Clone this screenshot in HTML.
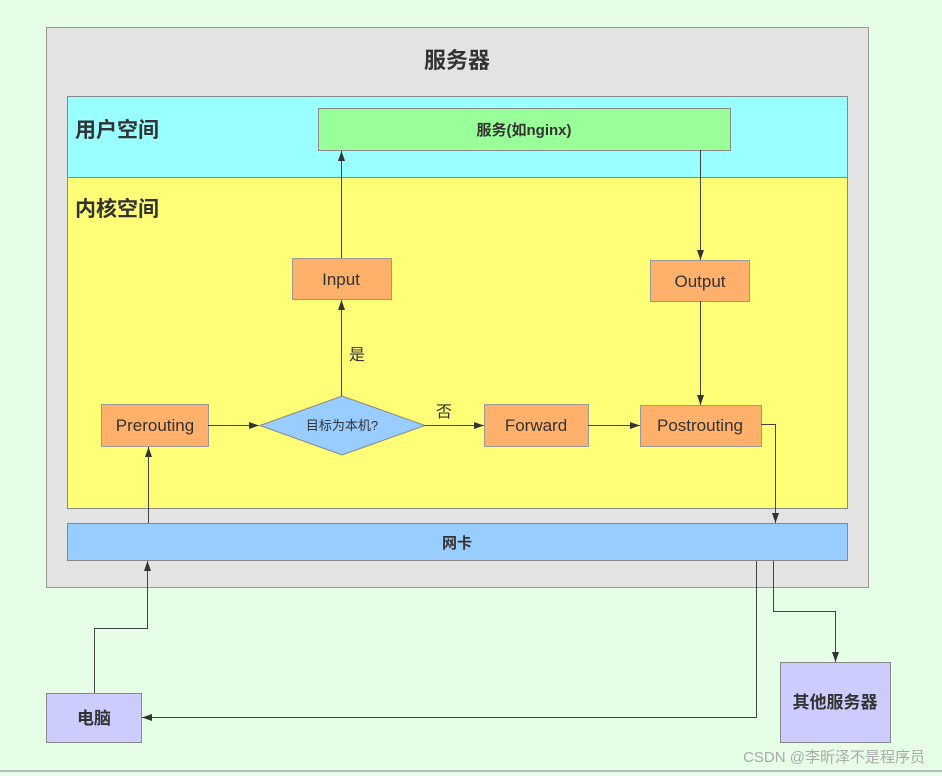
<!DOCTYPE html>
<html><head><meta charset="utf-8"><style>
html,body{margin:0;padding:0;width:942px;height:776px;overflow:hidden;background:#e6fde6}
svg{display:block}
text{font-family:"Liberation Sans","Noto Sans CJK SC",sans-serif;fill:#333}
</style></head><body>
<svg width="942" height="776" viewBox="0 0 942 776" xmlns="http://www.w3.org/2000/svg">
<defs><marker id="a" viewBox="0 0 10 10" refX="10" refY="5" markerWidth="10" markerHeight="10" markerUnits="userSpaceOnUse" orient="auto"><path d="M0,1.5 L10,5 L0,8.5z" fill="#333"/></marker></defs>
<rect x="0" y="0" width="942" height="776" fill="#e6fde6"/>
<line x1="0" y1="771" x2="942" y2="771" stroke="#bbb" stroke-width="2"/>
<rect x="46.5" y="27.5" width="822" height="560" fill="#e3e3e3" stroke="#999"/>
<text x="457" y="68" font-size="22" font-weight="bold" text-anchor="middle">服务器</text>
<rect x="67.5" y="96.5" width="780" height="81" fill="#99ffff" stroke="#888"/>
<rect x="67.5" y="177.5" width="780" height="331" fill="#ffff77" stroke="#888"/>
<text x="75" y="137" font-size="21" font-weight="bold">用户空间</text>
<text x="75" y="216" font-size="21" font-weight="bold">内核空间</text>
<rect x="318.5" y="108.5" width="412" height="42" fill="#99ff99" stroke="#888"/>
<text x="524" y="135" font-size="15" font-weight="bold" text-anchor="middle">服务(如nginx)</text>
<rect x="67.5" y="523.5" width="780" height="37" fill="#99ccff" stroke="#888"/>
<text x="457" y="548" font-size="15" font-weight="bold" text-anchor="middle">网卡</text>
<g fill="#ffb06a" stroke="#999">
<rect x="292.5" y="258.5" width="99" height="41"/>
<rect x="650.5" y="260.5" width="99" height="41"/>
<rect x="101.5" y="404.5" width="107" height="42"/>
<rect x="484.5" y="404.5" width="104" height="42"/>
<rect x="640.5" y="405.5" width="121" height="41"/>
</g>
<polygon points="260,425.5 342,396 425,425.5 342,455" fill="#99ccff" stroke="#888"/>
<g font-size="17" text-anchor="middle">
<text x="341" y="285">Input</text>
<text x="700" y="287">Output</text>
<text x="155" y="431">Prerouting</text>
<text x="536" y="431">Forward</text>
<text x="700" y="431">Postrouting</text>
</g>
<text x="342" y="430" font-size="13" text-anchor="middle">目标为本机?</text>
<text x="357" y="360" font-size="16" text-anchor="middle">是</text>
<text x="444" y="417" font-size="16" text-anchor="middle">否</text>
<rect x="46.5" y="693.5" width="95" height="49" fill="#ccccff" stroke="#888"/>
<text x="94" y="724" font-size="17" font-weight="bold" text-anchor="middle">电脑</text>
<rect x="780.5" y="662.5" width="110" height="80" fill="#ccccff" stroke="#888"/>
<text x="835" y="708" font-size="17" font-weight="bold" text-anchor="middle">其他服务器</text>
<g stroke="#444" stroke-width="1" fill="none" marker-end="url(#a)">
<path d="M341.5 258 V151"/>
<path d="M341.5 396 V300"/>
<path d="M700.5 150 V260"/>
<path d="M700.5 301 V405"/>
<path d="M208 425.5 H259"/>
<path d="M425 425.5 H484"/>
<path d="M588 425.5 H640"/>
<path d="M761 424.5 H775.5 V523"/>
<path d="M148.5 523 V447"/>
<path d="M94.5 693 V628.5 H147.5 V561"/>
<path d="M756.5 561 V717.5 H142"/>
<path d="M773.5 561 V611.5 H835.5 V662"/>
</g>
<text x="925" y="762" font-size="15" text-anchor="end" style="fill:#aaa">CSDN @李昕泽不是程序员</text>
</svg>
</body></html>
